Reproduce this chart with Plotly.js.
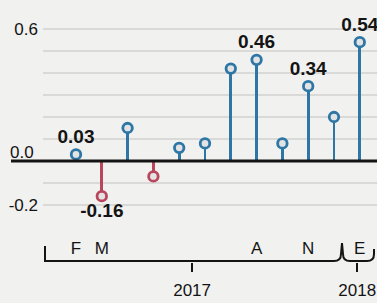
<!DOCTYPE html>
<html><head><meta charset="utf-8">
<script src="https://cdn.plot.ly/plotly-3.0.1.min.js"></script>
<style>html,body{margin:0;padding:0;background:#f1f1ef;}</style>
</head><body><div id="chart" style="width:377px;height:303px;"></div>
<script>
// ---- data ----
const pointIndex = [0, 1, 2, 3, 4, 5, 6, 7, 8, 9, 10, 11];
const values = [0.03, -0.16, 0.15, -0.07, 0.06, 0.08, 0.42, 0.46, 0.08, 0.34, 0.20, 0.54];
const labelledIndex = [0, 1, 7, 9, 11];
const monthTickPos = [0, 1, 7, 9, 11];
const monthTickText = ['F', 'M', 'A', 'N', 'E'];
const yearTickPos = [4.5, 10.9];
const yearTickText = ['2017', '2018'];
const yTickVals = [-0.2, 0.6];
const yTickText = ['-0.2', '0.6'];
const gridVals = [-0.2, -0.1, 0.1, 0.2, 0.3, 0.4, 0.5, 0.6];

// ---- style ----
const BLUE = '#2d76a6', RED = '#b9465d', INK = '#141414';
const FONT = 'Liberation Sans, Arial, sans-serif';
const colors = values.map(v => v >= 0 ? BLUE : RED);
const texts = values.map((v, i) => labelledIndex.includes(i) ? v.toFixed(2) : '');
const textPos = values.map(v => v >= 0 ? 'top center' : 'bottom center');

// pixel helpers for the decorative bracket (plot spans x 43..377, paper y 5..262)
const px = x => (x - 43) / 334;
const py = y => (262 - y) / 257;

const stems = {
  type: 'bar', x: pointIndex, y: values, width: 0.115,
  marker: {color: colors, line: {width: 0}}, hoverinfo: 'skip', xaxis: 'x', yaxis: 'y'
};
const heads = {
  type: 'scatter', mode: 'markers+text', x: pointIndex, y: values,
  text: texts, textposition: textPos, cliponaxis: false,
  textfont: {family: FONT, size: 19, color: INK, weight: 'bold'},
  marker: {size: 9.5, color: '#e2e3e2', line: {color: colors, width: 2.8}},
  xaxis: 'x', yaxis: 'y'
};
const yearAxisTrace = {type: 'scatter', x: yearTickPos, y: [0, 0], mode: 'none', xaxis: 'x2', yaxis: 'y', hoverinfo: 'skip'};

const bracketPath =
  `M ${px(45)},${py(246)} L ${px(45)},${py(261)} L ${px(334)},${py(261)} ` +
  `Q ${px(341)},${py(261)} ${px(341)},${py(254)} L ${px(342)},${py(243)} L ${px(343)},${py(254)} ` +
  `Q ${px(343)},${py(261)} ${px(350)},${py(261)} L ${px(367)},${py(261)} ` +
  `Q ${px(374)},${py(261)} ${px(374)},${py(254)} L ${px(374)},${py(249)}`;

const layout = {
  width: 377, height: 303,
  margin: {l: 43, r: 0, t: 5, b: 41, pad: 0},
  paper_bgcolor: '#f1f1ef', plot_bgcolor: '#f1f1ef',
  showlegend: false, bargap: 0,
  font: {family: FONT, size: 17, color: INK},
  xaxis: {
    range: [-1.279, 11.667], anchor: 'y', showgrid: false, zeroline: false, showline: false,
    tickmode: 'array', tickvals: monthTickPos, ticktext: monthTickText, ticks: '',
    tickfont: {family: FONT, size: 17, color: INK}, fixedrange: true
  },
  xaxis2: {
    range: [-1.279, 11.667], overlaying: 'x', anchor: 'free', position: 0, side: 'bottom',
    showgrid: false, zeroline: false, showline: false,
    tickmode: 'array', tickvals: yearTickPos, ticktext: yearTickText,
    ticks: 'outside', ticklen: 9, tickwidth: 2, tickcolor: INK, ticklabelstandoff: 4,
    tickfont: {family: FONT, size: 17, color: INK}
  },
  yaxis: {
    domain: [(262 - 236) / 257, 1], range: [-0.34091, 0.70909],
    showgrid: false, zeroline: false, showline: false, ticks: '',
    tickmode: 'array', tickvals: yTickVals, ticktext: yTickText, ticklabelstandoff: 4,
    tickfont: {family: FONT, size: 17, color: INK},
    minor: {tickmode: 'array', tickvals: gridVals, showgrid: true, gridcolor: '#d9d9d7', gridwidth: 1.5, ticks: ''}
  },
  shapes: [
    {type: 'line', xref: 'paper', yref: 'y', x0: px(11), x1: 1, y0: 0, y1: 0,
     line: {color: INK, width: 3}, layer: 'above'},
    {type: 'path', xref: 'paper', yref: 'paper', path: bracketPath,
     line: {color: INK, width: 2}, layer: 'above'}
  ],
  annotations: [
    {xref: 'paper', yref: 'y', x: px(36), y: 0, yshift: 9, xanchor: 'right', yanchor: 'middle',
     text: '0.0', showarrow: false, font: {family: FONT, size: 17, color: INK}}
  ]
};

Plotly.newPlot('chart', [stems, heads, yearAxisTrace], layout, {staticPlot: true, displayModeBar: false});
</script></body></html>
